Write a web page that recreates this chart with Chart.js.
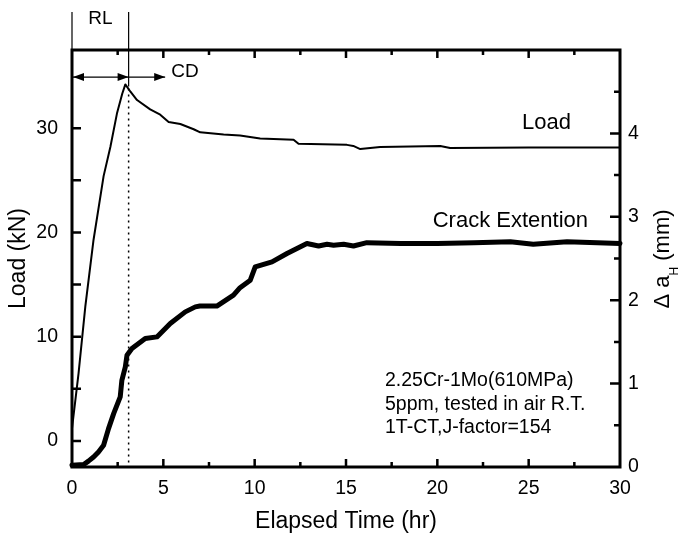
<!DOCTYPE html>
<html>
<head>
<meta charset="utf-8">
<script src="https://cdn.jsdelivr.net/npm/chart.js@4.4.0/dist/chart.umd.min.js"></script>
<style>
  html, body { margin: 0; padding: 0; background: #fff; }
  canvas { display: block; }
</style>
</head>
<body>
<canvas id="loadChart" width="678" height="538"></canvas>
<script>
// load record (kN) against elapsed time (hr)
const loadTime = [0, 0.36, 0.73, 1.18, 1.73, 2.1, 2.46, 2.75, 2.92, 3.2, 3.56, 4.28, 4.83, 5.29, 5.93, 6.66, 7.02, 8.3, 9.2, 10.3, 12.13, 12.4, 15.05, 15.4, 15.78, 16.87, 20.16, 20.7, 25, 30];
const loadKN = [1.2, 6.5, 12.9, 19.3, 25.4, 28.2, 31.4, 33.3, 34.2, 33.5, 32.7, 31.8, 31.3, 30.6, 30.4, 29.9, 29.6, 29.4, 29.3, 29.0, 28.9, 28.5, 28.4, 28.3, 28.0, 28.2, 28.3, 28.1, 28.15, 28.15];

// crack extension (mm) against elapsed time (hr)
const crackTime = [0, 0.64, 0.9, 1.18, 1.45, 1.73, 2.0, 2.28, 2.64, 2.73, 2.92, 3.01, 3.28, 4.01, 4.65, 5.38, 6.2, 6.75, 7.0, 7.93, 8.84, 9.2, 9.76, 10.03, 10.95, 11.77, 12.86, 13.5, 13.96, 14.32, 14.87, 15.41, 16.14, 18, 20, 22, 24, 25.25, 27.1, 30];
const crackMM = [0.02, 0.03, 0.07, 0.12, 0.18, 0.26, 0.46, 0.64, 0.84, 1.04, 1.2, 1.34, 1.42, 1.54, 1.56, 1.72, 1.86, 1.92, 1.93, 1.93, 2.06, 2.15, 2.24, 2.4, 2.46, 2.56, 2.68, 2.65, 2.67, 2.66, 2.67, 2.65, 2.69, 2.68, 2.68, 2.69, 2.70, 2.67, 2.70, 2.68];

// axis ticks
const timeTicks = [0, 2.5, 5, 7.5, 10, 12.5, 15, 17.5, 20, 22.5, 25, 27.5, 30];
const timeLabels = [0, 5, 10, 15, 20, 25, 30];
const loadTicks = [0, 5, 10, 15, 20, 25, 30];
const loadLabels = [0, 10, 20, 30];
const crackTicks = [0, 0.5, 1, 1.5, 2, 2.5, 3, 3.5, 4, 4.5, 5];
const crackLabels = [0, 1, 2, 3, 4];

// RL / CD markers
const peakTime = 3.1;
const peakLoad = 34.0;
const cdEndTime = 5.1;
const arrowLoad = 34.9;

const FONT = '"Liberation Sans", Arial, Helvetica, sans-serif';

function arrowHead(ctx, x, y, dir) {
  ctx.beginPath();
  ctx.moveTo(x, y);
  ctx.lineTo(x - dir * 11, y - 4);
  ctx.lineTo(x - dir * 11, y + 4);
  ctx.closePath();
  ctx.fill();
}

// frame, inward ticks, markers and labels
const frameAndNotes = {
  id: "frameAndNotes",
  afterDatasetsDraw(chart) {
    const { ctx, chartArea: a, scales } = chart;
    const x = scales.x, yL = scales.y, yR = scales.y1;
    ctx.save();
    ctx.strokeStyle = "#000";
    ctx.fillStyle = "#000";

    // inward tick marks
    ctx.lineWidth = 2.5;
    ctx.beginPath();
    timeTicks.forEach((v) => {
      if (v <= 0 || v >= 30) return;
      const px = x.getPixelForValue(v);
      const len = timeLabels.includes(v) ? 8 : 5;
      ctx.moveTo(px, a.bottom); ctx.lineTo(px, a.bottom - len);
      ctx.moveTo(px, a.top); ctx.lineTo(px, a.top + len);
    });
    loadTicks.forEach((v) => {
      const py = yL.getPixelForValue(v);
      ctx.moveTo(a.left, py); ctx.lineTo(a.left + 9, py);
    });
    crackTicks.forEach((v) => {
      if (v <= 0 || v >= 5) return;
      const py = yR.getPixelForValue(v);
      const len = crackLabels.includes(v) ? 10 : 6;
      ctx.moveTo(a.right, py); ctx.lineTo(a.right - len, py);
    });
    ctx.stroke();

    // frame
    ctx.lineWidth = 3;
    ctx.strokeRect(a.left, a.top, a.right - a.left, a.bottom - a.top);

    // RL / CD lines
    const x0 = x.getPixelForValue(0);
    const xp = x.getPixelForValue(peakTime);
    const xcd = x.getPixelForValue(cdEndTime);
    const ya = yL.getPixelForValue(arrowLoad);
    const yp = yL.getPixelForValue(peakLoad);
    ctx.lineWidth = 1.2;
    ctx.beginPath();
    ctx.moveTo(x0, 12); ctx.lineTo(x0, a.top);
    ctx.moveTo(xp, 12); ctx.lineTo(xp, yp);
    ctx.moveTo(x0, ya); ctx.lineTo(xcd, ya);
    ctx.stroke();
    arrowHead(ctx, x0 + 1, ya, -1);
    arrowHead(ctx, xp, ya, 1);
    arrowHead(ctx, xcd, ya, 1);

    ctx.setLineDash([2, 4]);
    ctx.lineWidth = 1.5;
    ctx.beginPath();
    ctx.moveTo(xp, yp + 2); ctx.lineTo(xp, a.bottom);
    ctx.stroke();
    ctx.setLineDash([]);

    // text
    ctx.textBaseline = "alphabetic";
    ctx.font = `19px ${FONT}`;
    ctx.textAlign = "center";
    ctx.fillText("RL", (x0 + xp) / 2, 24);
    ctx.textAlign = "left";
    ctx.fillText("CD", xcd + 6, 77);

    ctx.font = `22px ${FONT}`;
    ctx.fillText("Load", 522, 129);
    ctx.textAlign = "right";
    ctx.fillText("Crack Extention", 588, 227);

    ctx.textAlign = "left";
    ctx.font = `19.5px ${FONT}`;
    ctx.fillText("2.25Cr-1Mo(610MPa)", 385, 386);
    ctx.fillText("5ppm, tested in air R.T.", 385, 409.5);
    ctx.fillText("1T-CT,J-factor=154", 385, 433);

    // axis titles
    ctx.font = `23px ${FONT}`;
    ctx.textAlign = "center";
    ctx.fillText("Elapsed Time (hr)", (a.left + a.right) / 2, 528);

    ctx.save();
    ctx.translate(25, (a.top + a.bottom) / 2);
    ctx.rotate(-Math.PI / 2);
    ctx.fillText("Load (kN)", 0, 0);
    ctx.restore();

    ctx.save();
    ctx.translate(669, 259);
    ctx.rotate(-Math.PI / 2);
    ctx.textAlign = "left";
    const main = `22px ${FONT}`, sub = `12px ${FONT}`;
    ctx.font = main;
    const w1 = ctx.measureText("\u0394 a").width;
    const w3 = ctx.measureText(" (mm)").width;
    ctx.font = sub;
    const w2 = ctx.measureText("H").width;
    let s = -(w1 + w2 + w3) / 2;
    ctx.font = main;
    ctx.fillText("\u0394 a", s, 0);
    ctx.font = sub;
    ctx.fillText("H", s + w1, 9);
    ctx.font = main;
    ctx.fillText(" (mm)", s + w1 + w2, 0);
    ctx.restore();

    ctx.restore();
  },
};

const tickFont = { family: FONT, size: 19.5 };

new Chart(document.getElementById("loadChart"), {
  type: "line",
  data: {
    datasets: [
      {
        label: "Load",
        data: loadTime.map((t, i) => ({ x: t, y: loadKN[i] })),
        yAxisID: "y",
        borderColor: "#000",
        borderWidth: 2,
        pointRadius: 0,
        tension: 0,
        borderJoinStyle: "round",
      },
      {
        label: "Crack Extention",
        data: crackTime.map((t, i) => ({ x: t, y: crackMM[i] })),
        yAxisID: "y1",
        borderColor: "#000",
        borderWidth: 5,
        pointRadius: 0,
        tension: 0,
        borderJoinStyle: "round",
        borderCapStyle: "round",
        clip: false,
      },
    ],
  },
  options: {
    responsive: false,
    animation: false,
    layout: { padding: { top: 50 } },
    plugins: { legend: { display: false }, tooltip: { enabled: false } },
    scales: {
      x: {
        type: "linear",
        min: 0,
        max: 30,
        afterBuildTicks: (s) => { s.ticks = timeTicks.map((v) => ({ value: v })); },
        afterFit: (s) => { s.height = 71; },
        grid: { display: false, drawTicks: false },
        border: { display: false },
        ticks: {
          autoSkip: false,
          maxRotation: 0,
          padding: 10,
          color: "#000",
          font: tickFont,
          callback: (v) => (timeLabels.includes(v) ? String(v) : ""),
        },
      },
      y: {
        type: "linear",
        position: "left",
        min: -2.5,
        max: 37.5,
        afterBuildTicks: (s) => { s.ticks = loadTicks.map((v) => ({ value: v })); },
        afterFit: (s) => { s.width = 72; },
        grid: { display: false, drawTicks: false },
        border: { display: false },
        ticks: {
          padding: 14,
          color: "#000",
          font: tickFont,
          callback: (v) => (loadLabels.includes(v) ? String(v) : ""),
        },
      },
      y1: {
        type: "linear",
        position: "right",
        min: 0,
        max: 5,
        afterBuildTicks: (s) => { s.ticks = crackTicks.map((v) => ({ value: v })); },
        afterFit: (s) => { s.width = 58; },
        grid: { display: false, drawTicks: false },
        border: { display: false },
        ticks: {
          padding: 8,
          color: "#000",
          font: tickFont,
          callback: (v) => (crackLabels.includes(v) ? String(v) : ""),
        },
      },
    },
  },
  plugins: [frameAndNotes],
});
</script>
</body>
</html>
